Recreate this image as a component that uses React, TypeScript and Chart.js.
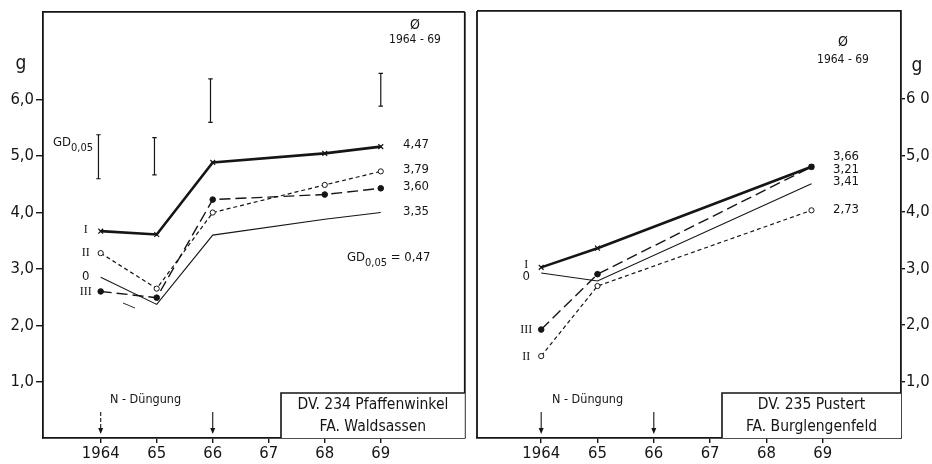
import React, { useEffect, useRef } from 'react';
import { Chart, registerables } from 'chart.js';
Chart.register(...registerables);

// ---------- data ----------
const xTickLabels = ['1964', '65', '66', '67', '68', '69'];
const xTickValues = [0, 1, 2, 3, 4, 5];
const yTickValues = [1, 2, 3, 4, 5, 6];
const yTickLabelsLeft = ['1,0', '2,0', '3,0', '4,0', '5,0', '6,0'];
const yTickLabelsRight = ['1,0', '2,0', '3,0', '4,0', '5,0', '6 0'];

// Left panel: DV. 234 Pfaffenwinkel
const leftYears = [0, 1, 2, 4, 5];
const leftI = [3.67, 3.61, 4.89, 5.05, 5.17];
const leftII = [3.28, 2.65, 4.0, 4.49, 4.73];
const leftIII = [2.6, 2.49, 4.23, 4.32, 4.43];
const left0 = [2.85, 2.37, 3.6, 3.88, 4.0];
const leftGdX = [-0.04, 0.96, 1.96, 5];
const leftGdLow = [4.6, 4.67, 5.6, 5.89];
const leftGdHigh = [5.38, 5.33, 6.37, 6.47];
const leftAvg = ['4,47', '3,79', '3,60', '3,35'];
const leftTitle = ['DV. 234 Pfaffenwinkel', 'FA. Waldsassen'];

// Right panel: DV. 235 Pustert
const rightYears = [0, 1, 4.8];
const rightI = [3.02, 3.36, 4.8];
const rightII = [1.45, 2.69, 4.03];
const rightIII = [1.92, 2.9, 4.8];
const right0 = [2.92, 2.78, 4.5];
const rightAvg = ['3,66', '3,21', '3,41', '2,73'];
const rightTitle = ['DV. 235 Pustert', 'FA. Burglengenfeld'];

const seriesNames = ['I', 'II', 'III', '0'];

// ---------- styling ----------
const INK = '#151515';
const SANS = '"DejaVu Sans Condensed", "DejaVu Sans", sans-serif';
const SERIF = '"Liberation Serif", "DejaVu Serif", serif';

function pts(xs: number[], ys: number[]) {
  return xs.map((x, i) => ({ x, y: ys[i] }));
}

function seriesDatasets(xs: number[], I: number[], II: number[], III: number[], Z: number[]) {
  return [
    {
      label: 'I', data: pts(xs, I), borderColor: INK, borderWidth: 2.6,
      pointStyle: 'crossRot', pointRadius: 3.4, pointBorderWidth: 1.2,
      pointBorderColor: INK, pointBackgroundColor: INK, tension: 0,
    },
    {
      label: 'II', data: pts(xs, II), borderColor: INK, borderWidth: 1.2,
      borderDash: [4, 3], pointStyle: 'circle', pointRadius: 2.6, pointBorderWidth: 1,
      pointBorderColor: INK, pointBackgroundColor: '#fff', tension: 0,
    },
    {
      label: 'III', data: pts(xs, III), borderColor: INK, borderWidth: 1.4,
      borderDash: [11, 5], pointStyle: 'circle', pointRadius: 2.8, pointBorderWidth: 1,
      pointBorderColor: INK, pointBackgroundColor: INK, tension: 0,
    },
    {
      label: '0', data: pts(xs, Z), borderColor: INK, borderWidth: 1.1,
      pointRadius: 0, tension: 0,
    },
  ];
}

function gdDatasets(xs: number[], lo: number[], hi: number[]) {
  return xs.map((x, i) => ({
    label: 'GD' + i,
    data: [{ x, y: lo[i] }, { x, y: hi[i] }],
    borderColor: INK, borderWidth: 1.2,
    pointStyle: 'line', pointRadius: 2.2, pointBorderWidth: 1.2,
    pointBorderColor: INK, tension: 0,
  }));
}

function drawGD(ctx: CanvasRenderingContext2D, x: number, y: number, tail: string) {
  ctx.textAlign = 'left';
  ctx.textBaseline = 'middle';
  ctx.font = `13px ${SANS}`;
  ctx.fillText('GD', x, y);
  let w = ctx.measureText('GD').width;
  ctx.font = `11px ${SANS}`;
  ctx.fillText('0,05', x + w, y + 5);
  w += ctx.measureText('0,05').width;
  if (tail) {
    ctx.font = `13px ${SANS}`;
    ctx.fillText(tail, x + w, y);
  }
}

function drawArrow(ctx: CanvasRenderingContext2D, x: number, y0: number, y1: number, dashed: boolean) {
  ctx.save();
  ctx.strokeStyle = INK;
  ctx.fillStyle = INK;
  ctx.lineWidth = 1.1;
  if (dashed) ctx.setLineDash([4, 2]);
  ctx.beginPath();
  ctx.moveTo(x, y0);
  ctx.lineTo(x, y1 - 4);
  ctx.stroke();
  ctx.setLineDash([]);
  ctx.beginPath();
  ctx.moveTo(x - 2.5, y1 - 6);
  ctx.lineTo(x + 2.5, y1 - 6);
  ctx.lineTo(x, y1);
  ctx.closePath();
  ctx.fill();
  ctx.restore();
}

type PanelSpec = {
  side: 'left' | 'right';
  xMin: number; xMax: number;
  yLabels: string[];
  years: number[]; I: number[]; II: number[]; III: number[]; Z: number[];
  gd?: { x: number[]; lo: number[]; hi: number[] };
  avg: string[];
  avgX: number; avgY: number[];
  title: string[];
  boxLeft: number;
  gLabel: { x: number; y: number };
  meanLabel: { x: number; y1: number; y2: number };
  nLabelX: number;
  arrowDashed: boolean[];
  nameY: number[];
  stray?: boolean;
  gdText?: boolean;
};

function overlayPlugin(p: PanelSpec) {
  return {
    id: 'overlay',
    afterDatasetsDraw(chart: any) {
      const ctx: CanvasRenderingContext2D = chart.ctx;
      const a = chart.chartArea;
      const xs = chart.scales.x;
      ctx.save();
      ctx.strokeStyle = INK;
      ctx.fillStyle = INK;
      // frame lines (top + opposite side)
      ctx.lineWidth = 1.8;
      ctx.beginPath();
      ctx.moveTo(a.left, a.top);
      ctx.lineTo(a.right, a.top);
      if (p.side === 'left') {
        ctx.moveTo(a.right, a.top);
        ctx.lineTo(a.right, a.bottom);
      } else {
        ctx.moveTo(a.left, a.top);
        ctx.lineTo(a.left, a.bottom);
      }
      ctx.stroke();

      // "g" unit label
      ctx.font = `19px ${SANS}`;
      ctx.textAlign = 'center';
      ctx.textBaseline = 'middle';
      ctx.fillText('g', p.gLabel.x, p.gLabel.y);

      // mean header
      ctx.font = `14px ${SANS}`;
      ctx.fillText('Ø', p.meanLabel.x, p.meanLabel.y1);
      ctx.font = `12px ${SANS}`;
      ctx.fillText('1964 - 69', p.meanLabel.x, p.meanLabel.y2);

      // average values
      ctx.font = `13px ${SANS}`;
      ctx.textAlign = 'left';
      p.avg.forEach((t, i) => ctx.fillText(t, p.avgX, p.avgY[i]));

      // series names near first points
      const x0 = xs.getPixelForValue(0);
      const nx = x0 - 15;
      seriesNames.forEach((n, i) => {
        ctx.font = n === '0' ? `13px ${SANS}` : `12px ${SERIF}`;
        ctx.textAlign = 'center';
        ctx.fillText(n, nx, p.nameY[i]);
      });

      // GD texts
      if (p.gdText) {
        drawGD(ctx, 53, 143, '');
        drawGD(ctx, 347, 258, ' = 0,47');
      }

      // stray pen mark
      if (p.stray) {
        ctx.lineWidth = 0.9;
        ctx.beginPath();
        ctx.moveTo(123, 303);
        ctx.lineTo(135, 308);
        ctx.stroke();
      }

      // N - Düngung
      ctx.font = `12.5px ${SANS}`;
      ctx.textAlign = 'left';
      ctx.fillText('N - Düngung', p.nLabelX, 400);
      drawArrow(ctx, xs.getPixelForValue(0), 412, a.bottom - 4, p.arrowDashed[0]);
      drawArrow(ctx, xs.getPixelForValue(2), 412, a.bottom - 4, p.arrowDashed[1]);

      // title box
      const bx0 = p.boxLeft;
      const bx1 = a.right;
      ctx.lineWidth = 1.6;
      ctx.fillStyle = '#fff';
      ctx.fillRect(bx0, 393, bx1 - bx0, a.bottom - 393);
      ctx.fillStyle = INK;
      ctx.beginPath();
      ctx.moveTo(bx0, a.bottom);
      ctx.lineTo(bx0, 393);
      ctx.lineTo(bx1, 393);
      ctx.stroke();
      ctx.font = `15.5px ${SANS}`;
      ctx.textAlign = 'center';
      const cx = (bx0 + bx1) / 2;
      ctx.fillText(p.title[0], cx, 405);
      ctx.fillText(p.title[1], cx, 427);
      ctx.restore();
    },
  };
}

function buildConfig(p: PanelSpec): any {
  const datasets: any[] = [...seriesDatasets(p.years, p.I, p.II, p.III, p.Z)];
  if (p.gd) datasets.push(...gdDatasets(p.gd.x, p.gd.lo, p.gd.hi));
  const tickFont = { family: SANS, size: 16.5 };
  return {
    type: 'line',
    data: { datasets },
    options: {
      animation: false,
      responsive: false,
      maintainAspectRatio: false,
      layout: {
        padding: p.side === 'left'
          ? { top: 7, right: 3, left: 0, bottom: 0 }
          : { top: 7, right: 0, left: 7, bottom: 0 },
      },
      plugins: { legend: { display: false }, tooltip: { enabled: false } },
      scales: {
        x: {
          type: 'linear',
          min: p.xMin, max: p.xMax,
          afterBuildTicks: (s: any) => { s.ticks = xTickValues.map((v) => ({ value: v })); },
          afterFit: (s: any) => { s.height = 26; },
          ticks: {
            autoSkip: false, maxRotation: 0, padding: 1, color: INK, font: tickFont,
            callback: (_v: any, i: number) => xTickLabels[i],
          },
          grid: { drawOnChartArea: false, drawTicks: true, tickLength: 5, color: INK, lineWidth: 1.4 },
          border: { display: true, color: INK, width: 1.8 },
        },
        y: {
          type: 'linear',
          position: p.side,
          min: 0, max: 7.56,
          afterBuildTicks: (s: any) => { s.ticks = yTickValues.map((v) => ({ value: v })); },
          afterFit: (s: any) => { s.width = p.side === 'left' ? 43 : 31; },
          ticks: {
            autoSkip: false, padding: p.side === 'left' ? 2 : 1, color: INK, font: tickFont,
            callback: (_v: any, i: number) => p.yLabels[i],
          },
          grid: {
            drawOnChartArea: false, drawTicks: true, tickLength: p.side === 'left' ? 7 : 4,
            color: INK, lineWidth: 1.4,
          },
          border: { display: true, color: INK, width: 1.8 },
        },
      },
    },
    plugins: [overlayPlugin(p)],
  };
}

const leftSpec: PanelSpec = {
  side: 'left', xMin: -1.03, xMax: 6.5, yLabels: yTickLabelsLeft,
  years: leftYears, I: leftI, II: leftII, III: leftIII, Z: left0,
  gd: { x: leftGdX, lo: leftGdLow, hi: leftGdHigh },
  avg: leftAvg, avgX: 403, avgY: [145, 170, 187, 212],
  title: leftTitle, boxLeft: 281,
  gLabel: { x: 21, y: 64 },
  meanLabel: { x: 415, y1: 25, y2: 40 },
  nLabelX: 110,
  arrowDashed: [true, false],
  nameY: [230, 253, 292, 277],
  stray: true, gdText: true,
};

const rightSpec: PanelSpec = {
  side: 'right', xMin: -1.14, xMax: 6.39, yLabels: yTickLabelsRight,
  years: rightYears, I: rightI, II: rightII, III: rightIII, Z: right0,
  avg: rightAvg, avgX: 363, avgY: [157, 170, 182, 210],
  title: rightTitle, boxLeft: 252,
  gLabel: { x: 447, y: 66 },
  meanLabel: { x: 373, y1: 42, y2: 60 },
  nLabelX: 82,
  arrowDashed: [false, false],
  nameY: [265, 357, 330, 277],
};

function Panel({ spec, left, width }: { spec: PanelSpec; left: number; width: number }) {
  const ref = useRef<HTMLCanvasElement | null>(null);
  useEffect(() => {
    if (!ref.current) return;
    const chart = new Chart(ref.current, buildConfig(spec));
    return () => chart.destroy();
  }, [spec]);
  return (
    <canvas
      ref={ref}
      width={width}
      height={464}
      style={{ position: 'absolute', left, top: 0, width, height: 464 }}
    />
  );
}

export default function App() {
  return (
    <div style={{ position: 'fixed', left: 0, top: 0, width: 932, height: 464, background: '#fff', overflow: 'hidden' }}>
      <Panel spec={leftSpec} left={0} width={470} />
      <Panel spec={rightSpec} left={470} width={462} />
    </div>
  );
}
